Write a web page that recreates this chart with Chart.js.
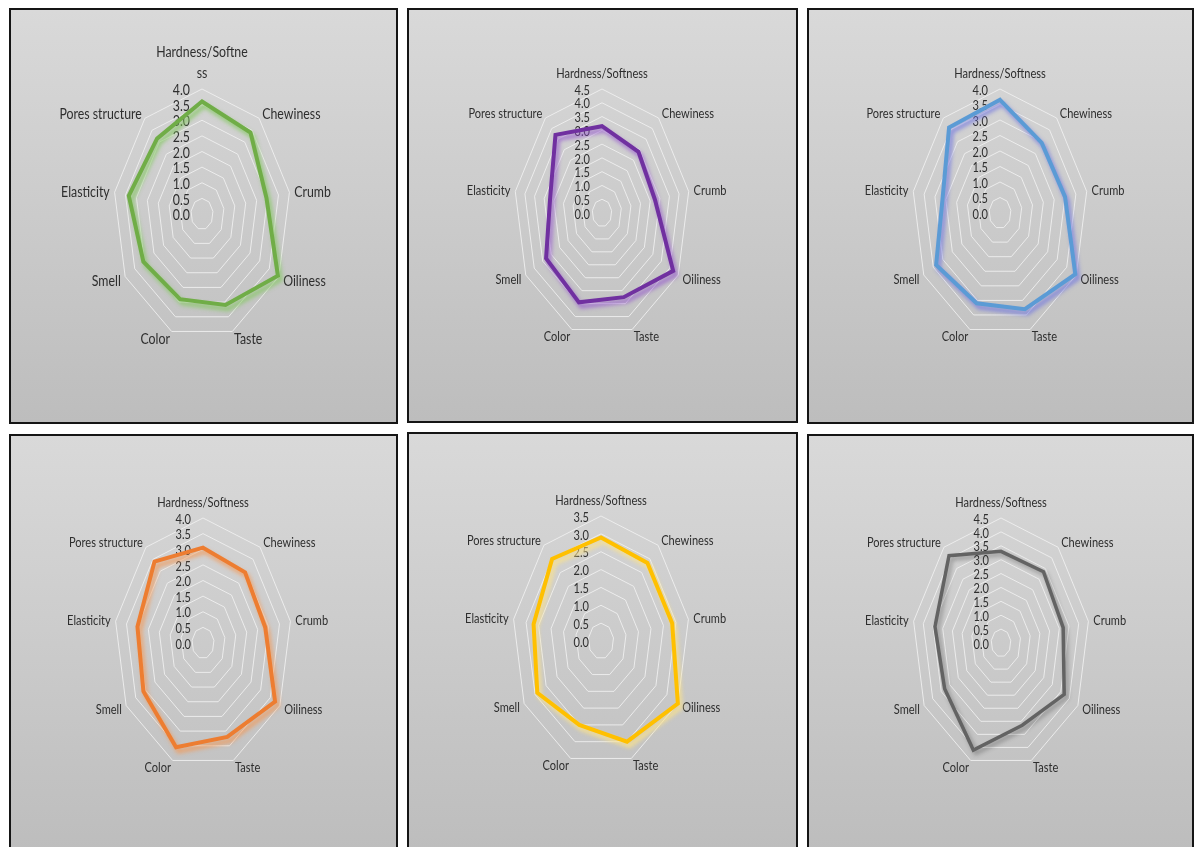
<!DOCTYPE html>
<html>
<head>
<meta charset="utf-8">
<script src="https://cdn.jsdelivr.net/npm/chart.js@4.4.0/dist/chart.umd.min.js"></script>
<style>
  html, body { margin: 0; padding: 0; background: #fff; }
  body { width: 1194px; height: 847px; position: relative; overflow: hidden; }
  .panel {
    position: absolute;
    box-sizing: border-box;
    border: 2px solid #151515;
    background: linear-gradient(#d9d9d9, #bdbdbd);
    overflow: hidden;
  }
  .panel canvas { position: absolute; left: 0; top: 0; }
</style>
</head>
<body>
<div class="panel" id="p1"><canvas id="c1"></canvas></div>
<div class="panel" id="p2"><canvas id="c2"></canvas></div>
<div class="panel" id="p3"><canvas id="c3"></canvas></div>
<div class="panel" id="p4"><canvas id="c4"></canvas></div>
<div class="panel" id="p5"><canvas id="c5"></canvas></div>
<div class="panel" id="p6"><canvas id="c6"></canvas></div>

<script>
// sensory attributes, clockwise from the top
var attributes = ['Hardness/Softness', 'Chewiness', 'Crumb', 'Oiliness', 'Taste', 'Color', 'Smell', 'Elasticity', 'Pores structure'];
// first chart wraps its top label
var attributesWrapped = [['Hardness/Softne', 'ss'], 'Chewiness', 'Crumb', 'Oiliness', 'Taste', 'Color', 'Smell', 'Elasticity', 'Pores structure'];

// mean scores per sample
var greenScores  = [3.6, 3.4, 2.95, 3.95, 3.1, 2.9, 3.05, 3.35, 3.15];
var purpleScores = [3.15, 2.9, 2.75, 4.2, 3.25, 3.45, 3.3, 2.7, 3.7];
var blueScores   = [3.65, 2.95, 3.0, 3.95, 3.3, 3.1, 3.35, 2.65, 3.6];
var orangeScores = [3.05, 2.95, 2.85, 3.75, 3.2, 3.55, 3.1, 3.0, 3.4];
var yellowScores = [2.9, 2.85, 2.85, 3.5, 3.0, 2.5, 2.9, 2.7, 3.0];
var grayScores   = [3.3, 3.35, 3.2, 3.7, 3.15, 4.1, 3.3, 3.4, 4.1];

// axis maximum of each chart, ticks every 0.5
var axisMax = [4.0, 4.5, 4.0, 4.0, 3.5, 4.5];
var tickStep = 0.5;

// the plot is drawn narrower than it is tall, text slightly condensed
var SQUEEZE_X = 0.71;
var TEXT_SQUEEZE = 0.85;

class OvalRadialScale extends Chart.RadialLinearScale {
    getPointPosition(index, distance, additionalAngle) {
        var p = super.getPointPosition(index, distance, additionalAngle);
        return { x: this.xCenter + (p.x - this.xCenter) * SQUEEZE_X, y: p.y, angle: p.angle };
    }
}
OvalRadialScale.id = 'ovalRadial';
Chart.register(OvalRadialScale);

function drawSqueezed(ctx, text, x, y) {
    ctx.save();
    ctx.translate(x, y);
    ctx.scale(TEXT_SQUEEZE, 1);
    ctx.fillText(text, 0, 0);
    ctx.restore();
}

// value ticks left of the vertical axis and attribute names round the outer ring
var labelPlugin = {
    id: 'sheetLabels',
    beforeDatasetsDraw: function (chart, args, opts) {
        var scale = chart.scales.r;
        var ctx = chart.ctx;
        var size = opts.size;
        ctx.save();
        ctx.fillStyle = '#2e2e2e';
        ctx.font = size + 'px Lato';
        ctx.textBaseline = 'middle';

        ctx.textAlign = 'right';
        scale.ticks.forEach(function (tick) {
            var y = scale.yCenter - scale.getDistanceFromCenterForValue(tick.value);
            drawSqueezed(ctx, tick.value.toFixed(1), scale.xCenter - 12, y + 1.5);
        });

        var labels = chart.data.labels;
        var n = labels.length;
        labels.forEach(function (label, i) {
            var p = scale.getPointPosition(i, scale.drawingArea + 7);
            var deg = i * 360 / n;
            var lines = Array.isArray(label) ? label : [label];
            var lineH = size * 1.45;
            if (deg === 0) {
                ctx.textAlign = 'center';
                var baseY = p.y - size * 0.6;
                for (var k = 0; k < lines.length; k++) {
                    drawSqueezed(ctx, lines[k], p.x, baseY - (lines.length - 1 - k) * lineH);
                }
            } else {
                ctx.textAlign = deg < 180 ? 'left' : 'right';
                drawSqueezed(ctx, lines[0], p.x, p.y + 1);
            }
        });
        ctx.restore();
    }
};

// soft offset glow under the series line
var glowPlugin = {
    id: 'lineGlow',
    beforeDatasetDraw: function (chart, args, opts) {
        var ctx = chart.ctx;
        ctx.save();
        ctx.shadowColor = opts.color;
        ctx.shadowBlur = opts.blur;
        ctx.shadowOffsetX = opts.dx;
        ctx.shadowOffsetY = opts.dy;
    },
    afterDatasetDraw: function (chart) {
        chart.ctx.restore();
    }
};

var panels = [
    { id: 1, left: 9,   top: 8,   width: 389, height: 416, cx: 202.5, cy: 214.5, r: 125, font: 14.5,
      labels: attributesWrapped, data: greenScores, color: '#70ad47', glow: 'rgba(130,200,95,0.85)', lw: 4 },
    { id: 2, left: 407, top: 8,   width: 391, height: 415, cx: 602,   cy: 213.5, r: 124, font: 13,
      labels: attributes, data: purpleScores, color: '#7030a0', glow: 'rgba(145,80,205,0.75)', lw: 4 },
    { id: 3, left: 807, top: 8,   width: 387, height: 416, cx: 1000.5, cy: 213.5, r: 124, font: 13,
      labels: attributes, data: blueScores, color: '#5b9bd5', glow: 'rgba(110,115,225,0.8)', lw: 4 },
    { id: 4, left: 9,   top: 434, width: 389, height: 420, cx: 203.5, cy: 643, r: 125, font: 13,
      labels: attributes, data: orangeScores, color: '#ed7d31', glow: 'rgba(245,150,80,0.8)', lw: 4 },
    { id: 5, left: 407, top: 432, width: 391, height: 420, cx: 601,   cy: 641, r: 125, font: 13,
      labels: attributes, data: yellowScores, color: '#ffc000', glow: 'rgba(250,225,140,0.95)', lw: 4 },
    { id: 6, left: 807, top: 434, width: 387, height: 420, cx: 1001,  cy: 643, r: 125, font: 13,
      labels: attributes, data: grayScores, color: '#636363', glow: 'rgba(40,40,40,0.35)', lw: 3.5 }
];

panels.forEach(function (p, idx) {
    var box = document.getElementById('p' + p.id);
    box.style.left = p.left + 'px';
    box.style.top = p.top + 'px';
    box.style.width = p.width + 'px';
    box.style.height = p.height + 'px';

    var cw = p.width - 4;
    var ch = p.height - 4;
    var canvas = document.getElementById('c' + p.id);
    canvas.width = cw;
    canvas.height = ch;
    canvas.style.width = cw + 'px';
    canvas.style.height = ch + 'px';

    // square plot area of side 2r around the centre
    var lcx = p.cx - p.left - 2;
    var lcy = p.cy - p.top - 2;

    new Chart(canvas.getContext('2d'), {
        type: 'radar',
        data: {
            labels: p.labels,
            datasets: [{
                data: p.data,
                borderColor: p.color,
                backgroundColor: 'transparent',
                borderWidth: p.lw,
                borderJoinStyle: 'miter',
                pointRadius: 0,
                pointHoverRadius: 0,
                fill: false
            }]
        },
        options: {
            responsive: false,
            animation: false,
            devicePixelRatio: 1,
            layout: {
                padding: {
                    left: lcx - p.r,
                    top: lcy - p.r,
                    right: cw - lcx - p.r,
                    bottom: ch - lcy - p.r
                }
            },
            plugins: {
                legend: { display: false },
                tooltip: { enabled: false },
                sheetLabels: { size: p.font },
                lineGlow: { color: p.glow, blur: 4, dx: 2.5, dy: idx === 5 ? 3 : 4 }
            },
            scales: {
                r: {
                    type: 'ovalRadial',
                    min: 0,
                    max: axisMax[idx],
                    ticks: { display: false, stepSize: tickStep },
                    grid: { color: 'rgba(240,240,240,0.9)', lineWidth: 1 },
                    angleLines: { display: false },
                    pointLabels: { display: false }
                }
            }
        },
        plugins: [labelPlugin, glowPlugin]
    });
});
</script>
</body>
</html>
